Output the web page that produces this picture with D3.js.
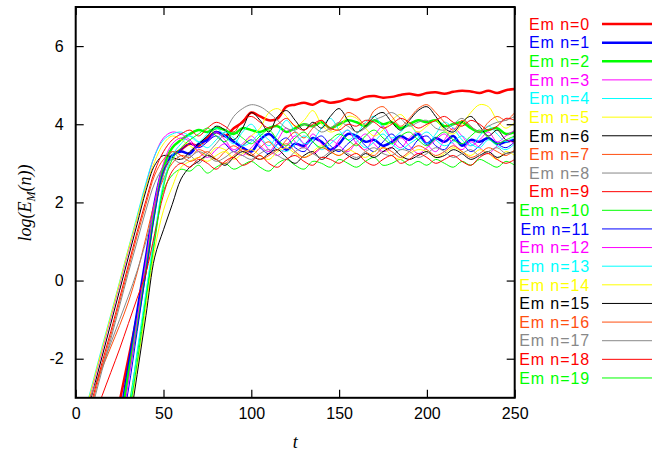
<!DOCTYPE html>
<html><head><meta charset="utf-8">
<script src="https://cdn.jsdelivr.net/npm/d3@7"></script>
<style>body{margin:0;background:#fff}svg{display:block}
.serif{font-family:"Liberation Serif","Times New Roman",Times,"DejaVu Serif",serif;font-style:italic}</style>
</head><body>
<script>
// time grid (t = 0..250 step 5)
const tGrid = d3.range(0, 251, 5);
const xTicks = [0, 50, 100, 150, 200, 250];
const yTicks = [-2, 0, 2, 4, 6];
const seriesNames = ["Em n=0","Em n=1","Em n=2","Em n=3","Em n=4","Em n=5","Em n=6","Em n=7","Em n=8","Em n=9",
  "Em n=10","Em n=11","Em n=12","Em n=13","Em n=14","Em n=15","Em n=16","Em n=17","Em n=18","Em n=19"];
const seriesColors = ["#ff0000","#0000ff","#00ff00","#ff00ff","#00ffff","#ffff00","#000000","#ff4f10","#888888","#ff0000",
  "#00ff00","#0000ff","#ff00ff","#00ffff","#ffff00","#000000","#ff4f10","#888888","#ff0000","#00ff00"];
const seriesWidths = [2.5,2.5,2.5,1,1,1,1,1,1,1,1,1,1,1,1,1,1,1,1,1];

const s0 = [-8.6,-7.5,-6.4,-5.3,-4.2,-3.1,-2.0,-0.9,0.3,1.9,2.8, 3.2,3.35,3.5,3.45,3.65,3.8,3.7,3.9,4.05, 4.3,4.2,4.1,4.15,4.45,4.5,4.55,4.5,4.6,4.55, 4.58,4.65,4.62,4.7,4.72,4.68,4.7,4.75,4.78,4.74, 4.8,4.82,4.78,4.83,4.86,4.84,4.8,4.86,4.8,4.87, 4.9];
const s1 = [-9.0,-8.0,-7.0,-6.0,-5.0,-3.6,-2.2,-0.8,0.6,2.0,2.9, 3.2,3.3,3.25,3.5,3.6,3.8,3.7,3.55,3.4, 3.3,3.6,3.75,3.55,3.35,3.5,3.45,3.65,3.55,3.35, 3.5,3.75,3.7,3.55,3.6,3.45,3.55,3.7,3.6,3.75, 3.5,3.65,3.55,3.7,3.45,3.6,3.55,3.65,3.5,3.55, 3.6];
const s2 = [-9.5,-8.3,-7.1,-5.9,-4.9,-3.8,-2.4,-1.1,0.3,1.8,2.9, 3.4,3.6,3.75,3.85,3.8,3.9,3.85,3.75,3.9, 3.85,3.8,3.9,3.95,3.8,3.9,4.0,3.95,4.05,3.9, 4.0,4.1,4.05,3.95,4.1,4.0,4.05,3.9,4.0,4.1, 4.05,4.1,3.95,4.0,4.05,3.9,3.8,3.85,3.9,3.75, 3.8];
const s3 = [-4.35,-3.5,-2.65,-1.8,-0.95,-0.1,0.75,1.6,2.45,3.2,3.65, 3.8,3.75,3.6,3.4,3.55,3.8,3.6,3.35,3.5, 3.7,3.45,3.3,3.6,3.9,3.55,3.4,3.75,3.5,3.3, 3.6,3.85,3.5,3.35,3.7,3.95,3.6,3.4,3.65,3.8, 3.5,3.3,3.6,3.9,3.7,3.45,3.6,3.8,3.55,3.7, 3.85];
const s4 = [-4.25,-3.4,-2.56,-1.7,-0.87,-0.03,0.82,1.66,2.5,3.2,3.6, 3.75,3.8,3.7,3.55,3.75,3.9,3.7,3.5,3.8, 4.0,3.7,3.45,3.75,4.1,3.8,3.5,3.6,3.9,4.15, 3.85,3.6,3.75,4.05,4.2,3.9,3.65,3.8,4.0,3.7, 3.5,3.75,4.05,3.9,3.6,3.45,3.7,3.95,3.75,3.55, 3.7];
const s5 = [-4.3,-3.45,-2.6,-1.75,-0.9,-0.05,0.8,1.6,2.4,3.05,3.5, 3.7,3.6,3.45,3.3,3.2,3.4,3.35,3.15,3.45, 3.7,3.9,4.3,4.4,4.2,3.95,4.1,4.35,4.0,3.8, 3.9,4.2,4.15,3.9,3.7,3.85,4.1,4.25,4.0,3.8, 3.95,4.1,3.85,3.75,4.0,4.3,4.5,4.45,4.1,3.9, 4.05];
const s6 = [-4.5,-3.65,-2.8,-1.95,-1.1,-0.25,0.6,1.45,2.3,2.95,3.2, 3.15,3.1,3.3,3.5,3.7,3.95,3.85,3.6,3.9, 4.3,4.1,3.8,4.2,4.35,4.1,3.85,4.05,3.9,4.2, 4.4,4.1,3.8,3.95,4.2,4.3,4.05,3.85,4.1,4.35, 4.45,4.2,3.9,3.8,4.05,4.2,3.95,3.7,3.85,3.6, 3.55];
const s7 = [-3.9,-3.35,-2.8,-2.25,-1.7,-1.15,-0.55,0.2,1.1,2.0,2.6, 3.0,3.2,3.15,3.35,3.25,3.1,3.3,3.45,3.3, 3.2,3.4,3.55,3.35,3.6,3.8,3.65,3.9,4.1,3.85, 4.05,4.3,4.2,4.0,4.35,4.45,4.2,3.95,4.15,4.4, 4.5,4.3,4.05,3.85,4.1,3.95,3.8,4.05,4.2,4.1, 4.3];
const s8 = [-4.0,-3.4,-2.8,-2.2,-1.6,-1.0,-0.4,0.25,1.0,1.9,2.7, 3.3,3.1,3.2,3.0,3.25,3.5,3.8,4.2,4.4, 4.5,4.45,4.3,4.1,3.9,3.85,4.0,3.95,3.8,3.9, 4.05,3.95,3.8,3.9,4.1,4.2,4.3,4.15,3.95,4.05, 4.1,3.9,3.85,4.0,4.15,3.95,3.8,3.95,4.05,4.1, 4.2];
const s9 = [-4.6,-3.8,-2.95,-2.1,-1.3,-0.45,0.4,1.25,2.05,2.8,3.3, 3.6,3.75,3.85,3.7,3.9,4.05,3.95,3.8,4.1, 4.2,4.05,3.9,4.0,4.15,3.95,3.85,4.0,4.1,3.9, 3.85,4.0,3.95,4.1,4.05,3.9,4.0,4.15,4.05,3.9, 4.0,4.1,4.2,4.05,3.95,4.1,4.0,3.85,3.95,4.15, 4.1];
const s10 = [-10.5,-9.3,-8.1,-6.9,-5.7,-4.7,-3.3,-1.9,-0.4,1.1,2.3, 2.7,2.85,2.8,2.95,2.75,2.9,3.0,2.85,2.95, 3.05,2.9,2.8,3.0,3.1,2.95,2.85,3.05,3.0,2.9, 3.1,3.0,2.9,3.05,3.15,2.95,3.0,3.1,2.95,3.05, 2.95,3.1,3.0,2.9,3.05,2.95,3.1,3.0,2.9,3.05, 2.95];
const s11 = [-9.8,-8.6,-7.4,-6.2,-5.0,-4.0,-2.8,-1.3,0.2,1.7,2.8, 3.2,3.35,3.5,3.4,3.55,3.7,3.5,3.3,3.45, 3.6,3.4,3.25,3.5,3.65,3.4,3.3,3.55,3.7,3.45, 3.3,3.5,3.65,3.45,3.3,3.55,3.75,3.5,3.35,3.6, 3.7,3.45,3.35,3.6,3.5,3.3,3.45,3.65,3.5,3.4, 3.55];
const s12 = [-9.5,-8.4,-7.3,-6.2,-5.1,-4.0,-2.6,-1.0,0.5,2.0,3.0, 3.5,3.65,3.55,3.3,3.15,3.35,3.5,3.3,3.2, 3.4,3.6,3.35,3.2,3.45,3.7,3.5,3.25,3.4,3.6, 3.45,3.3,3.55,3.75,3.5,3.3,3.4,3.65,3.45,3.25, 3.4,3.6,3.75,3.5,3.35,3.55,3.4,3.25,3.45,3.6, 3.5];
const s13 = [-10.0,-8.8,-7.6,-6.4,-5.2,-4.2,-3.4,-1.8,-0.3,1.2,2.5, 3.2,3.5,3.7,3.55,3.4,3.6,3.8,3.65,3.45, 3.55,3.75,3.6,3.4,3.3,3.5,3.7,3.55,3.35,3.5, 3.7,3.85,3.6,3.4,3.55,3.75,3.5,3.35,3.5,3.65, 3.8,3.6,3.45,3.55,3.7,3.5,3.4,3.6,3.45,3.35, 3.5];
const s14 = [-10.4,-9.2,-8.0,-6.8,-5.6,-4.6,-3.6,-2.2,-0.7,0.8,1.8, 2.4,2.9,3.05,3.15,3.05,3.2,3.3,3.1,3.25, 3.35,3.2,3.1,3.3,3.4,3.25,3.15,3.3,3.45,3.3, 3.2,3.35,3.25,3.15,3.3,3.4,3.2,3.1,3.25,3.35, 3.3,3.15,3.25,3.4,3.3,3.2,3.35,3.25,3.1,3.3, 3.2];
const s15 = [-11.4,-10.2,-9.0,-7.8,-6.6,-5.4,-3.9,-2.4,-0.9,0.6,1.3, 1.95,2.6,2.9,3.05,3.2,3.1,2.95,3.15,3.3, 3.2,3.1,3.25,3.35,3.15,3.0,3.2,3.3,3.1,3.25, 3.35,3.2,3.1,3.25,3.15,3.3,3.4,3.2,3.1,3.2, 3.3,3.15,3.2,3.35,3.25,3.1,3.2,3.3,3.15,3.25, 3.3];
const s16 = [-4.7,-3.9,-3.05,-2.2,-1.4,-0.55,0.3,1.15,1.95,2.7,3.1, 3.3,3.2,3.05,3.15,3.3,3.1,3.0,3.2,3.35, 3.25,3.1,3.2,3.35,3.5,3.3,3.15,3.25,3.4,3.3, 3.2,3.35,3.5,3.3,3.2,3.4,3.3,3.15,3.3,3.45, 3.35,3.2,3.3,3.45,3.3,3.15,3.25,3.4,3.3,3.2, 3.35];
const s17 = [-4.8,-4.0,-3.15,-2.3,-1.5,-0.65,0.2,1.0,1.8,2.5,2.9, 3.1,3.0,3.15,3.3,3.2,3.05,3.15,3.3,3.2, 3.1,3.25,3.35,3.2,3.1,3.3,3.4,3.25,3.15,3.3, 3.35,3.25,3.15,3.3,3.4,3.25,3.2,3.35,3.3,3.15, 3.25,3.4,3.3,3.15,3.25,3.35,3.2,3.3,3.4,3.25, 3.3];
const s18 = [-5.0,-4.3,-3.6,-2.95,-2.35,-1.75,-1.1,-0.45,0.2,1.2,2.2, 2.8,3.0,2.9,3.1,3.0,2.85,3.05,3.15,2.95, 3.05,3.2,3.0,2.9,3.1,3.2,3.05,2.95,3.15,3.1, 3.0,3.15,3.25,3.05,2.95,3.1,3.2,3.0,3.1,3.25, 3.15,3.0,3.1,3.2,3.05,2.95,3.15,3.25,3.1,3.0, 3.1];
const s19 = [-10.0,-8.9,-7.8,-6.7,-5.6,-4.6,-3.5,-2.1,-0.5,1.0,2.4, 3.1,3.4,3.6,3.75,3.9,3.7,3.55,3.8,3.65, 3.5,3.7,3.85,3.6,3.45,3.65,3.8,3.55,3.4,3.6, 3.75,3.6,3.45,3.7,3.85,3.65,3.5,3.7,3.8,3.6, 3.45,3.65,3.8,3.6,3.5,3.7,3.85,3.65,3.5,3.6, 3.7];
const seriesValues = [s0,s1,s2,s3,s4,s5,s6,s7,s8,s9,s10,s11,s12,s13,s14,s15,s16,s17,s18,s19];

const W = 672, H = 455;
const svg = d3.select("body").append("svg").attr("width", W).attr("height", H);
const x = d3.scaleLinear().domain([0, 250]).range([75.7, 514.7]);
const y = d3.scaleLinear().domain([-3, 7]).range([397.8, 7]);
const font = "Liberation Sans, Arial, sans-serif";

svg.append("defs").append("clipPath").attr("id", "clip")
  .append("rect").attr("x", x(0)).attr("y", y(7)).attr("width", x(250) - x(0)).attr("height", y(-3) - y(7));

const line = d3.line().x((d, i) => x(tGrid[i])).y(d => y(d)).curve(d3.curveCatmullRom.alpha(0.5));
const g = svg.append("g").attr("clip-path", "url(#clip)");
seriesValues.forEach((vals, k) => {
  g.append("path").attr("d", line(vals)).attr("fill", "none")
    .attr("stroke", seriesColors[k]).attr("stroke-width", seriesWidths[k]).attr("stroke-linejoin", "round");
});

// axes (gnuplot-style with mirrored inward ticks)
const tl = 8;
const fmt = d => String(d);
const axB = svg.append("g").attr("transform", `translate(0,${y(-3)})`)
  .call(d3.axisBottom(x).tickValues(xTicks).tickSize(-tl).tickPadding(10).tickFormat(fmt));
const axT = svg.append("g").attr("transform", `translate(0,${y(7)})`)
  .call(d3.axisTop(x).tickValues(xTicks).tickSize(-tl).tickFormat(""));
const axL = svg.append("g").attr("transform", `translate(${x(0)},0)`)
  .call(d3.axisLeft(y).tickValues(yTicks).tickSize(-tl).tickPadding(12).tickFormat(fmt));
const axR = svg.append("g").attr("transform", `translate(${x(250)},0)`)
  .call(d3.axisRight(y).tickValues(yTicks).tickSize(-tl).tickFormat(""));
[axB, axT, axL, axR].forEach(a => {
  a.select(".domain").remove();
  a.selectAll(".tick line").attr("stroke", "#000").attr("stroke-width", 1.2);
  a.selectAll("text").attr("font-family", font).attr("font-size", 16).attr("fill", "#000");
});
svg.append("rect").attr("x", x(0)).attr("y", y(7)).attr("width", x(250) - x(0)).attr("height", y(-3) - y(7))
  .attr("fill", "none").attr("stroke", "#000").attr("stroke-width", 2);

// axis titles
svg.append("text").attr("class", "serif").attr("x", x(125)).attr("y", 448).attr("text-anchor", "middle")
  .attr("font-size", 18).text("t");
const yl = svg.append("text").attr("class", "serif").attr("transform", "translate(31,203) rotate(-90)")
  .attr("text-anchor", "middle").attr("font-size", 18);
yl.append("tspan").text("log(E");
yl.append("tspan").attr("font-size", 12).attr("dy", 4).text("M");
yl.append("tspan").attr("dy", -4).text("(n))");

// legend
const leg = svg.append("g");
seriesNames.forEach((nm, k) => {
  const yy = 24 + k * 18.63;
  leg.append("text").attr("x", 590).attr("y", yy).attr("dy", "0.36em").attr("text-anchor", "end")
    .attr("font-family", font).attr("font-size", 16).attr("letter-spacing", 0.9)
    .attr("fill", seriesColors[k]).text(nm);
  leg.append("line").attr("x1", 602).attr("x2", 652).attr("y1", yy).attr("y2", yy)
    .attr("stroke", seriesColors[k]).attr("stroke-width", seriesWidths[k] > 1 ? 2.5 : 1);
});
</script>
</body></html>
